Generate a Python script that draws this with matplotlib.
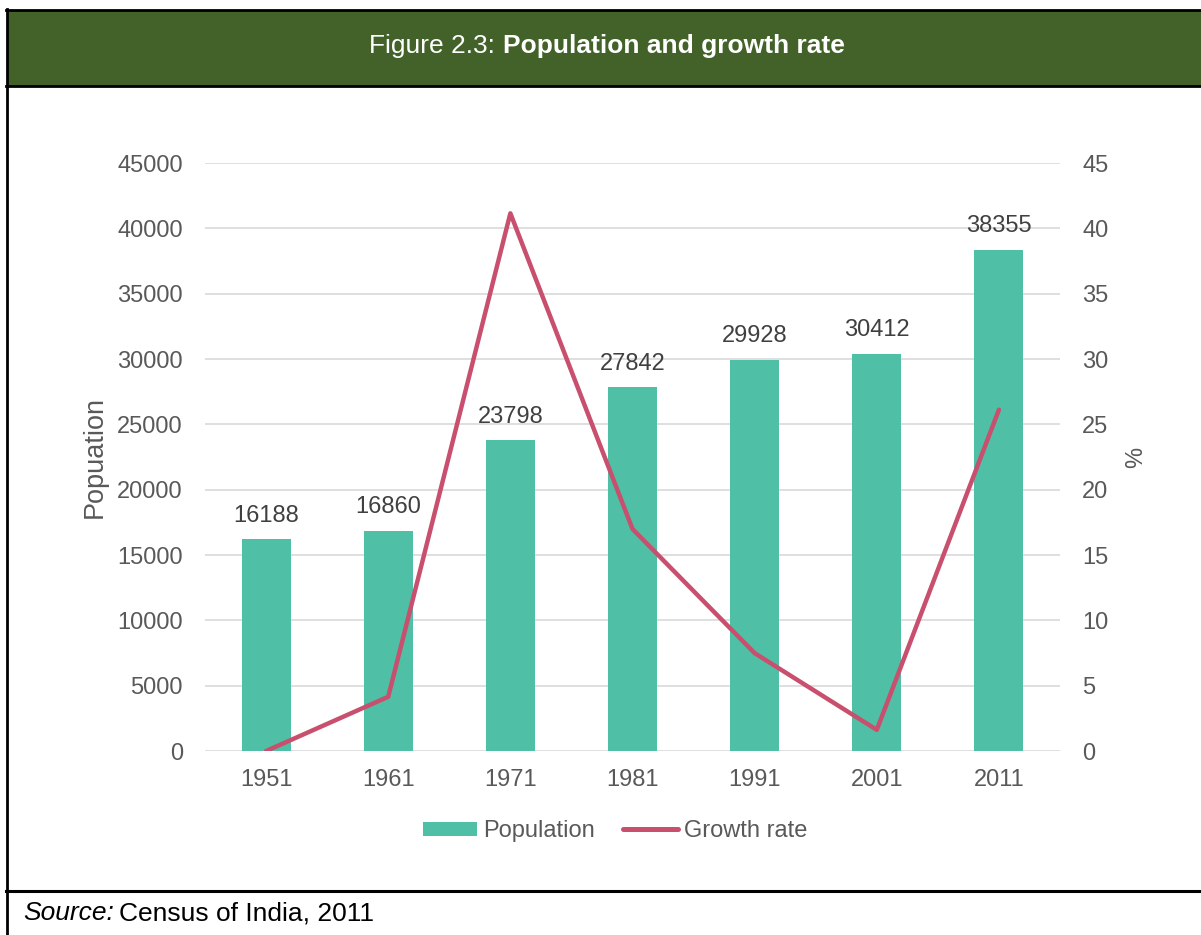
import matplotlib
matplotlib.use("Agg")
import matplotlib.pyplot as plt
from matplotlib.patches import Rectangle, Patch
from matplotlib.lines import Line2D

plt.rcParams['font.family'] = ['Liberation Sans', 'DejaVu Sans']

years = ['1951', '1961', '1971', '1981', '1991', '2001', '2011']
population = [16188, 16860, 23798, 27842, 29928, 30412, 38355]
growth_rate = [0.0, 4.15, 41.15, 16.99, 7.49, 1.62, 26.12]

BAR = '#4FBFA5'
LINE = '#C8506E'
GRID = '#D9D9D9'
TXT = '#595959'
GREEN = '#426229'

fig = plt.figure(figsize=(12.01, 9.35), dpi=100)
W, H = 1201, 935

def fx(px): return px / W
def fy(py): return 1 - py / H

# header band and frame
fig.add_artist(Rectangle((fx(7), fy(86)), 1 - fx(7), fy(10) - fy(86),
                         transform=fig.transFigure, facecolor=GREEN, edgecolor='none', zorder=0))
for y in (10, 86):
    fig.add_artist(Line2D([fx(6), 1], [fy(y), fy(y)], transform=fig.transFigure, color='black', lw=2))
fig.add_artist(Line2D([fx(6), 1], [fy(890.5), fy(890.5)], transform=fig.transFigure, color='black', lw=2.2))
fig.add_artist(Line2D([fx(7), fx(7)], [fy(9), 0], transform=fig.transFigure, color='black', lw=2))

# title with mixed weight
t1 = fig.text(0.5, fy(46), 'Figure 2.3: ', color='white', fontsize=19, ha='left', va='center')
t2 = fig.text(0.5, fy(46), 'Population and growth rate', color='white', fontsize=19,
              fontweight='bold', ha='left', va='center')
fig.canvas.draw()
r = fig.canvas.get_renderer()
w1 = t1.get_window_extent(r).width
w2 = t2.get_window_extent(r).width
start = 607 - (w1 + w2) / 2
t1.set_x(fx(start))
t2.set_x(fx(start + w1))

ax = fig.add_axes([fx(205), fy(751), fx(1060) - fx(205), fy(163) - fy(751)])
x = list(range(len(years)))
ax.bar(x, population, width=0.4, color=BAR, zorder=2)
ax.set_ylim(0, 45000)
ax.set_xlim(-0.5, len(years) - 0.5)
ax.set_yticks(range(0, 45001, 5000))
ax.grid(axis='y', color=GRID, lw=1.2, zorder=0)
ax.set_axisbelow(True)
for s in ax.spines.values():
    s.set_visible(False)
ax.set_xticks(x)
ax.set_xticklabels(years)
ax.tick_params(axis='both', length=0, labelsize=17, labelcolor=TXT)
ax.tick_params(axis='x', pad=13)
ax.tick_params(axis='y', pad=16)
ax.set_ylabel('Popuation', fontsize=19.5, color=TXT, labelpad=7)
for xi, v in zip(x, population):
    ax.annotate(str(v), (xi, v), xytext=(0, 9), textcoords='offset points',
                ha='center', va='bottom', fontsize=17, color='#404040')

ax2 = ax.twinx()
ax2.plot(x, growth_rate, color=LINE, lw=3.2, zorder=3, solid_capstyle='round')
ax2.set_ylim(0, 45)
ax2.set_yticks(range(0, 46, 5))
for s in ax2.spines.values():
    s.set_visible(False)
ax2.tick_params(axis='y', length=0, labelsize=17, labelcolor=TXT, pad=16)
ax2.set_ylabel('%', fontsize=17, color=TXT, labelpad=12)

handles = [Patch(facecolor=BAR, edgecolor='none'),
           Line2D([0], [0], color=LINE, lw=3.6, solid_capstyle='round')]
fig.legend(handles, ['Population', 'Growth rate'], loc='center', bbox_to_anchor=(fx(615), fy(831)),
           ncol=2, frameon=False, fontsize=17, labelcolor=TXT, handlelength=2.3,
           handleheight=0.55, handletextpad=0.25, columnspacing=1.2)

# source
s1 = fig.text(fx(23), fy(913), 'Source:', fontsize=19, style='italic', color='black', va='center', ha='left')
fig.canvas.draw()
ws = s1.get_window_extent(fig.canvas.get_renderer()).width
fig.text(fx(23 + ws + 5), fy(913), 'Census of India, 2011', fontsize=19, color='black', va='center', ha='left')

fig.savefig('out.png', dpi=100, facecolor='white')
